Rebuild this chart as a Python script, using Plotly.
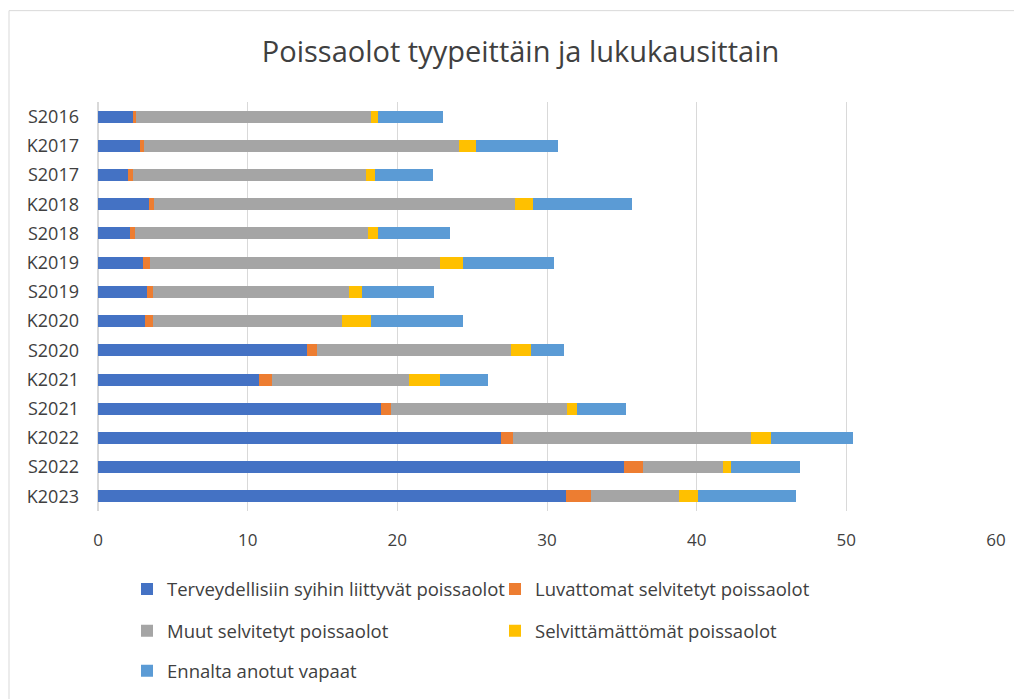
import plotly.graph_objects as go

terms = ["S2016", "K2017", "S2017", "K2018", "S2018", "K2019", "S2019",
         "K2020", "S2020", "K2021", "S2021", "K2022", "S2022", "K2023"]

terveys = [2.31, 2.78, 2.02, 3.38, 2.11, 3.00, 3.27, 3.16, 13.94, 10.79, 18.88, 26.95, 35.16, 31.24]
luvattomat = [0.20, 0.31, 0.34, 0.36, 0.38, 0.47, 0.38, 0.51, 0.67, 0.86, 0.67, 0.78, 1.24, 1.72]
muut = [15.70, 21.00, 15.56, 24.15, 15.52, 19.41, 13.12, 12.63, 13.01, 9.14, 11.78, 15.90, 5.38, 5.89]
selvittamattomat = [0.47, 1.16, 0.58, 1.18, 0.67, 1.52, 0.89, 1.91, 1.33, 2.09, 0.67, 1.31, 0.49, 1.26]
ennalta = [4.36, 5.49, 3.87, 6.64, 4.82, 6.07, 4.78, 6.16, 2.20, 3.20, 3.29, 5.51, 4.65, 6.54]

series = [
    ("Terveydellisiin syihin liittyvät poissaolot", terveys, "#4472C4", "legend"),
    ("Luvattomat selvitetyt poissaolot", luvattomat, "#ED7D31", "legend"),
    ("Muut selvitetyt poissaolot", muut, "#A5A5A5", "legend2"),
    ("Selvittämättömät poissaolot", selvittamattomat, "#FFC000", "legend2"),
    ("Ennalta anotut vapaat", ennalta, "#5B9BD5", "legend3"),
]

fig = go.Figure()
for name, vals, color, leg in series:
    fig.add_trace(go.Bar(y=terms, x=vals, name=name, orientation="h",
                         marker=dict(color=color, line=dict(width=0)),
                         legend=leg))

# the page adds an 8px body margin, so margins are shifted by 8px
legend_font = dict(family="Open Sans", size=18.5, color="#404040")
leg_common = dict(orientation="h", xanchor="left", yanchor="middle", x=0.0323,
                  font=legend_font, entrywidth=323, itemwidth=30,
                  traceorder="normal", bgcolor="rgba(0,0,0,0)")

fig.update_layout(
    width=1022, height=699,
    barmode="stack", bargap=0.59,
    plot_bgcolor="white", paper_bgcolor="white",
    margin=dict(l=90, r=34, t=94, b=196),
    title=dict(text="Poissaolot tyypeittäin ja lukukausittain", x=0.5015, xanchor="center",
               y=0.937, yanchor="middle",
               font=dict(family="Open Sans", size=29, color="#404040")),
    xaxis=dict(range=[0, 60], dtick=10, showgrid=True, gridcolor="#d9d9d9",
               zeroline=True, zerolinecolor="#d9d9d9", showline=False,
               tickfont=dict(family="Open Sans", size=17, color="#404040"),
               ticklabelstandoff=17, fixedrange=True),
    yaxis=dict(autorange="reversed", showgrid=False, showline=False,
               tickfont=dict(family="Open Sans", size=18, color="#404040"),
               ticklabelstandoff=18, fixedrange=True),
    legend=dict(y=-0.1916, **leg_common),
    legend2=dict(y=-0.2942, **leg_common),
    legend3=dict(y=-0.392, **leg_common),
    shapes=[dict(type="rect", xref="paper", yref="paper",
                 x0=(9 - 98) / 898, x1=(1040 - 98) / 898,
                 y0=-0.5, y1=(511.6 - 11) / 409.2,
                 line=dict(color="#d9d9d9", width=1), layer="below")],
)

fig.write_html("out.html")
